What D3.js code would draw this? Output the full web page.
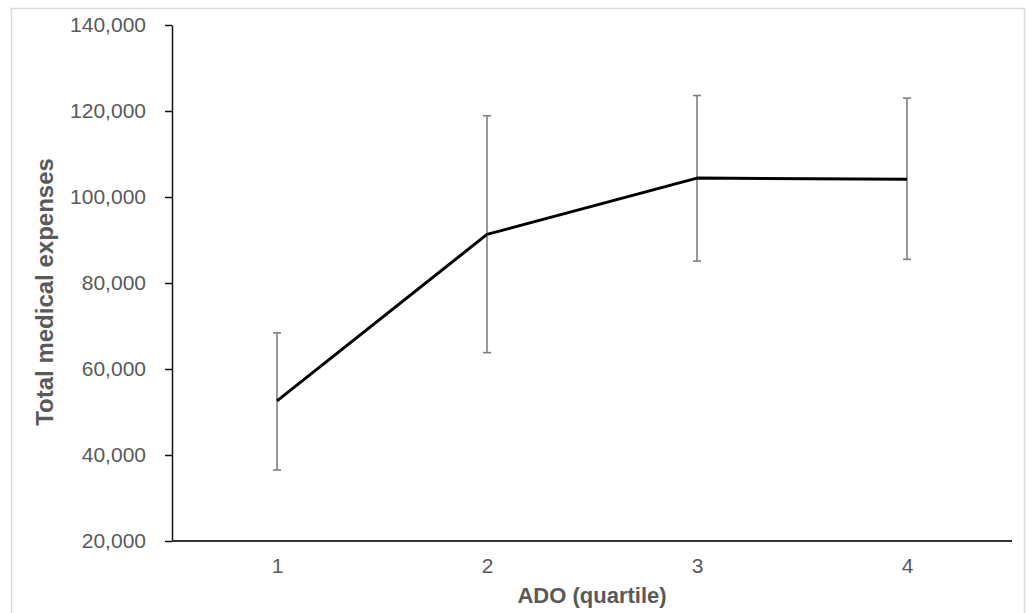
<!DOCTYPE html>
<html>
<head>
<meta charset="utf-8">
<script src="https://cdn.jsdelivr.net/npm/d3@7"></script>
<style>
  body { margin: 0; background: #fff; }
  svg { display: block; }
</style>
</head>
<body>
<svg id="chart" width="1030" height="613"></svg>
<script>
const categories = ["1", "2", "3", "4"];
const meanValues = [52600, 91300, 104400, 104100];
const upperValues = [68400, 118900, 123600, 123000];
const lowerValues = [36500, 63800, 85100, 85500];
const yTickValues = [20000, 40000, 60000, 80000, 100000, 120000, 140000];
const xTitle = "ADO (quartile)";
const yTitle = "Total medical expenses";

(function () {
const svg = d3.select("#chart");
const mLeft = 172, mRight = 1012, mTop = 25, mBottom = 541;

svg.append("rect")
  .attr("x", 11.5).attr("y", 8.5)
  .attr("width", 1013).attr("height", 620)
  .attr("fill", "#fff").attr("stroke", "#d9d9d9").attr("stroke-width", 1.5);

const x = d3.scalePoint().domain(categories).range([mLeft, mRight]).padding(0.5);
const y = d3.scaleLinear().domain([20000, 140000]).range([mBottom, mTop]);

const fmt = d3.format(",");

// Y axis
const yAxis = svg.append("g")
  .attr("transform", `translate(${mLeft},0)`)
  .call(d3.axisLeft(y).tickValues(yTickValues).tickFormat(fmt).tickSize(7).tickSizeOuter(0).tickPadding(19));
yAxis.select(".domain").attr("stroke", "#111").attr("stroke-width", 1.5);
yAxis.selectAll(".tick line").attr("stroke", "#111").attr("stroke-width", 1.5);
yAxis.selectAll(".tick text")
  .attr("fill", "#595959")
  .style("font-family", "Liberation Sans, Arial, sans-serif")
  .style("font-size", "21px");

// X axis
const xAxis = svg.append("g")
  .attr("transform", `translate(0,${mBottom})`)
  .call(d3.axisBottom(x).tickSize(0).tickSizeOuter(0).tickPadding(17));
xAxis.select(".domain").attr("stroke", "#333").attr("stroke-width", 2)
  .attr("d", `M${mLeft},0H${mRight}`);
xAxis.selectAll(".tick text")
  .attr("fill", "#595959")
  .style("font-family", "Liberation Sans, Arial, sans-serif")
  .style("font-size", "21px");

// Error bars
const data = categories.map((c, i) => ({c, m: meanValues[i], hi: upperValues[i], lo: lowerValues[i]}));
const eb = svg.append("g").attr("stroke", "#7f7f7f").attr("stroke-width", 1.6).attr("fill", "none");
data.forEach(d => {
  const cx = x(d.c);
  eb.append("line").attr("x1", cx).attr("x2", cx).attr("y1", y(d.hi)).attr("y2", y(d.lo));
  eb.append("line").attr("x1", cx - 4).attr("x2", cx + 4).attr("y1", y(d.hi)).attr("y2", y(d.hi));
  eb.append("line").attr("x1", cx - 4).attr("x2", cx + 4).attr("y1", y(d.lo)).attr("y2", y(d.lo));
});

// Line
const line = d3.line().x(d => x(d.c)).y(d => y(d.m));
svg.append("path").datum(data)
  .attr("d", line)
  .attr("fill", "none").attr("stroke", "#000").attr("stroke-width", 3)
  .attr("stroke-linejoin", "round");

// Titles
svg.append("text")
  .attr("x", (mLeft + mRight) / 2).attr("y", 603)
  .attr("text-anchor", "middle")
  .attr("fill", "#595959")
  .style("font-family", "Liberation Sans, Arial, sans-serif")
  .style("font-weight", "bold").style("font-size", "22px")
  .text(xTitle);

svg.append("text")
  .attr("transform", `translate(53,292) rotate(-90)`)
  .attr("text-anchor", "middle")
  .attr("fill", "#595959")
  .style("font-family", "Liberation Sans, Arial, sans-serif")
  .style("font-weight", "bold").style("font-size", "24px")
  .text(yTitle);
})();
</script>
</body>
</html>
